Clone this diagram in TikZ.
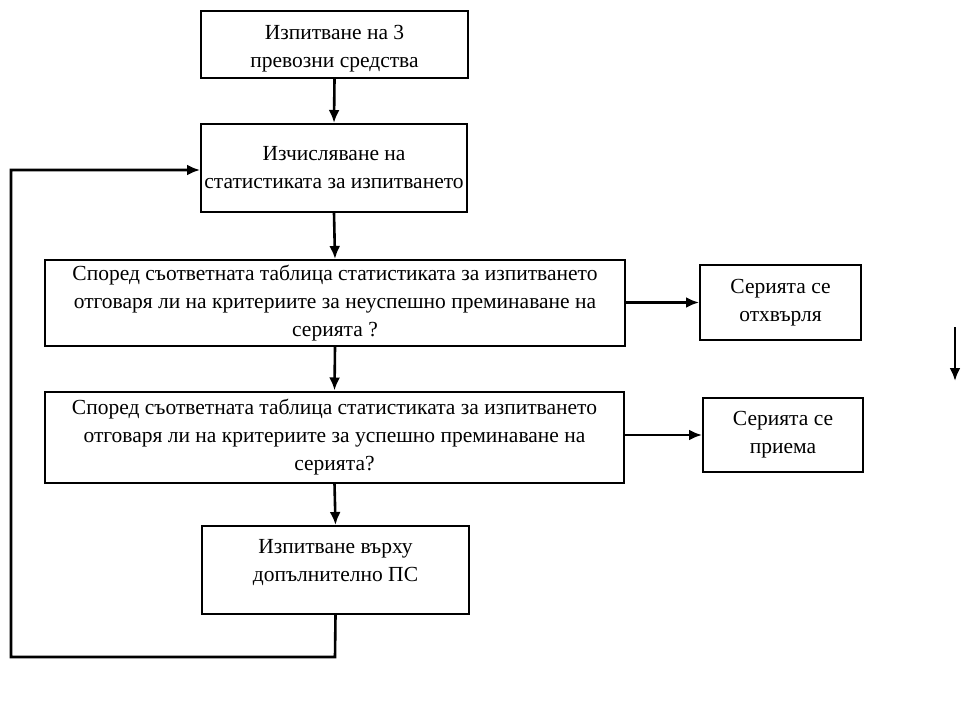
\documentclass[tikz,border=0pt]{standalone}
\usepackage{fontspec}
\setmainfont{Liberation Serif}
\usetikzlibrary{arrows.meta}
\begin{document}
\begin{tikzpicture}[x=1pt,y=-1pt,
  box/.style={draw,line width=2pt,align=center,inner sep=0pt,font=\fontsize{21.5}{28}\selectfont},
  txt/.style={align=center,inner sep=0pt,font=\fontsize{21.5}{28}\selectfont},
  conn/.style={line width=2.6pt,-{Latex[length=13pt,width=11pt]}}]
\useasboundingbox (0,0) rectangle (966,706);
\node[box,minimum width=267,minimum height=67] (b1) at (334.5,44.5) {};
\node[txt] (b1t) at (334.5,49) {Изпитване на 3\\превозни средства};
\node[box,minimum width=266,minimum height=88] (b2) at (334,168) {Изчисляване на\\статистиката за изпитването};
\node[box,minimum width=580,minimum height=86] (b3) at (335,303) {Според съответната таблица статистиката за изпитването\\отговаря ли на критериите за неуспешно преминаване на\\серията ?};
\node[box,minimum width=579,minimum height=91] (b4) at (334.5,437) {Според съответната таблица статистиката за изпитването\\отговаря ли на критериите за успешно преминаване на\\серията?};
\node[box,minimum width=267,minimum height=88] (b5) at (335.5,570) {};
\node[txt] (b5t) at (335.5,563) {Изпитване върху\\допълнително ПС};
\node[box,minimum width=161,minimum height=75] (r1) at (780.5,302.5) {Серията се\\отхвърля};
\node[box,minimum width=160,minimum height=74] (r2) at (783,435) {Серията се\\приема};
\coordinate (s1) at (955,327);
\coordinate (s2) at (955,381);
\coordinate (l1) at (335,657);
\coordinate (l2) at (11,657);
\coordinate (l3) at (11,170);
\draw[conn] (b1.south) -- (b2.north);
\draw[conn] (b2.south) -- (b3.north);
\draw[conn] (b3.south) -- (b4.north);
\draw[conn] (b4.south) -- (b5.north);
\draw[conn] (b3.east |- r1.west) -- (r1.west);
\draw[conn] (b4.east |- r2.west) -- (r2.west);
\draw[conn] (b5.south) -- (l1) -- (l2) -- (l3) -- (b2.west |- l3);
\draw[conn] (s1) -- (s2);
\end{tikzpicture}
\end{document}
